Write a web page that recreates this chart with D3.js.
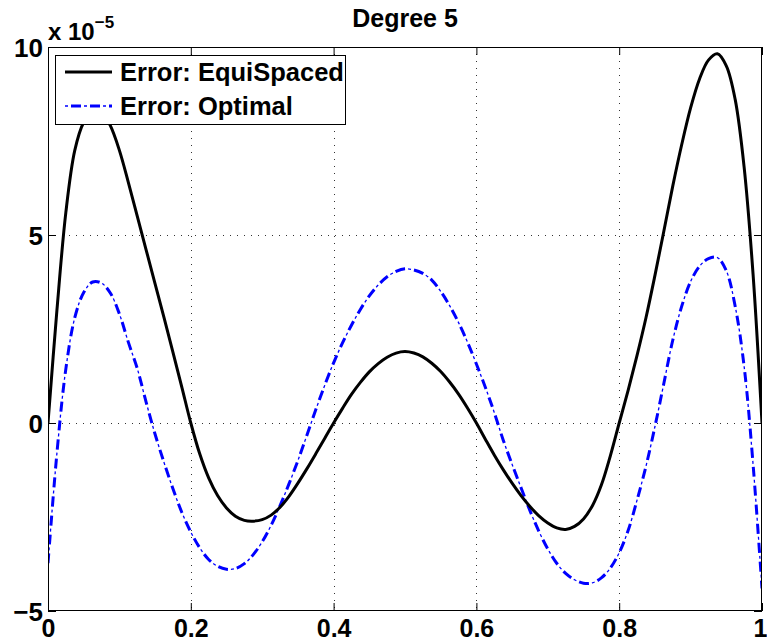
<!DOCTYPE html>
<html><head><meta charset="utf-8">
<script src="https://cdn.jsdelivr.net/npm/d3@7"></script>
<style>body{margin:0;background:#fff}svg{display:block}</style>
</head><body><svg id="c" width="767" height="643"></svg>
<script>
const xValues = [0,0.0125,0.025,0.0375,0.05,0.0625,0.075,0.0875,0.1,0.1125,0.125,0.1375,0.15,0.1625,0.175,0.1875,
0.2,0.2125,0.225,0.2375,0.25,0.2625,0.275,0.2875,0.3,0.3125,0.325,0.3375,0.35,0.3625,0.375,0.3875,
0.4,0.4125,0.425,0.4375,0.45,0.4625,0.475,0.4875,0.5,0.5125,0.525,0.5375,0.55,0.5625,0.575,0.5875,
0.6,0.6125,0.625,0.6375,0.65,0.6625,0.675,0.6875,0.7,0.7125,0.725,0.7375,0.75,0.7625,0.775,0.7875,
0.8,0.8125,0.825,0.8375,0.85,0.8625,0.875,0.8875,0.9,0.9125,0.925,0.9375,0.95,0.9625,0.975,0.9875,1];
// values in units of 1e-5
const equiSpaced = [0,3.0,5.6,7.25,8.0,8.3,8.28,7.9,7.25,6.4,5.5,4.6,3.7,2.8,1.88,0.95,
0,-0.82,-1.46,-1.93,-2.26,-2.48,-2.59,-2.61,-2.57,-2.45,-2.24,-1.95,-1.6,-1.22,-0.82,-0.41,
0,0.39,0.76,1.08,1.36,1.58,1.75,1.86,1.9,1.86,1.76,1.59,1.37,1.09,0.77,0.4,
0,-0.43,-0.85,-1.24,-1.6,-1.93,-2.22,-2.47,-2.66,-2.79,-2.83,-2.75,-2.55,-2.2,-1.65,-0.88,
0,0.87,1.8,2.8,3.92,5.1,6.3,7.4,8.38,9.15,9.65,9.82,9.5,8.6,6.8,3.95,0];
const optimal = [-3.73,-0.8,1.44,2.8,3.47,3.75,3.72,3.45,2.9,2.15,1.45,0.55,-0.3,-1.05,-1.75,-2.38,
-2.9,-3.32,-3.63,-3.81,-3.89,-3.87,-3.74,-3.5,-3.16,-2.72,-2.2,-1.62,-1.0,-0.33,0.35,1.0,
1.6,2.13,2.6,3.02,3.38,3.67,3.89,4.03,4.1,4.07,3.98,3.8,3.5,3.12,2.67,2.15,
1.57,0.95,0.28,-0.45,-1.1,-1.72,-2.33,-2.88,-3.35,-3.73,-4.0,-4.17,-4.26,-4.25,-4.12,-3.86,
-3.45,-2.86,-2.05,-1.15,-0.1,1.05,2.2,3.1,3.76,4.17,4.37,4.4,4.05,3.1,1.5,-1.1,-4.4];
const seriesNames = ["Error: EquiSpaced", "Error: Optimal"];
const seriesColors = ["#000000", "#0000ff"];
const xTicks = [0, 0.2, 0.4, 0.6, 0.8, 1];
const xTickLabels = ["0", "0.2", "0.4", "0.6", "0.8", "1"];
const yTicks = [-5, 0, 5, 10];
const yTickLabels = ["\u22125", "0", "5", "10"];
const titleText = "Degree 5";
const multiplierBase = "x 10";
const multiplierExp = "\u22125";

const W = 767, H = 643;
const L = 48, R = 762, T = 47, B = 611;
const svg = d3.select("#c");
const x = d3.scaleLinear().domain([0, 1]).range([L, R]);
const y = d3.scaleLinear().domain([-5, 10]).range([B, T]);
const FONT = "'Liberation Sans', Arial, Helvetica, sans-serif";

svg.append("rect").attr("width", W).attr("height", H).attr("fill", "#fff");

// grid
const grid = svg.append("g").attr("stroke", "#333").attr("stroke-width", 1).attr("stroke-dasharray", "1,6");
grid.selectAll(".gx").data(xTicks.filter(d => d > 0 && d < 1)).join("line")
  .attr("x1", d => Math.round(x(d)) + 0.5).attr("x2", d => Math.round(x(d)) + 0.5)
  .attr("y1", T).attr("y2", B);
grid.selectAll(".gy").data(yTicks.filter(d => d > -5 && d < 10)).join("line")
  .attr("y1", d => Math.round(y(d)) + 0.5).attr("y2", d => Math.round(y(d)) + 0.5)
  .attr("x1", L).attr("x2", R);

// curves
svg.append("defs").append("clipPath").attr("id", "clip")
  .append("rect").attr("x", L).attr("y", T).attr("width", R - L).attr("height", B - T);
const line = vals => d3.line().curve(d3.curveCatmullRom.alpha(0.5))
  .x((d, i) => x(xValues[i])).y(d => y(d))(vals);
const plot = svg.append("g").attr("clip-path", "url(#clip)");
// dash-dot: thick dashes plus thin dots in the gaps
plot.append("path").attr("d", line(optimal)).attr("fill", "none")
  .attr("stroke", seriesColors[1]).attr("stroke-width", 3).attr("stroke-dasharray", "10,9");
plot.append("path").attr("d", line(optimal)).attr("fill", "none")
  .attr("stroke", seriesColors[1]).attr("stroke-width", 1.3).attr("stroke-dasharray", "3,16").attr("stroke-dashoffset", 6);
plot.append("path").attr("d", line(equiSpaced)).attr("fill", "none")
  .attr("stroke", seriesColors[0]).attr("stroke-width", 3).attr("stroke-linejoin", "round");

// axes
const fmtX = (d) => xTickLabels[xTicks.indexOf(d)];
const fmtY = (d) => yTickLabels[yTicks.indexOf(d)];
const gb = svg.append("g").attr("transform", `translate(0,${B})`)
  .call(d3.axisBottom(x).tickValues(xTicks).tickSize(-8).tickSizeOuter(0).tickFormat(fmtX));
const gt = svg.append("g").attr("transform", `translate(0,${T})`)
  .call(d3.axisTop(x).tickValues(xTicks).tickSize(-8).tickSizeOuter(0).tickFormat(""));
const gl = svg.append("g").attr("transform", `translate(${L},0)`)
  .call(d3.axisLeft(y).tickValues(yTicks).tickSize(-8).tickSizeOuter(0).tickFormat(fmtY));
const gr = svg.append("g").attr("transform", `translate(${R},0)`)
  .call(d3.axisRight(y).tickValues(yTicks).tickSize(-8).tickSizeOuter(0).tickFormat(""));
[gb, gt, gl, gr].forEach(g => {
  g.select(".domain").remove();
  g.selectAll(".tick line").attr("stroke", "#000").attr("stroke-width", 1);
  g.selectAll("text").attr("font-family", FONT).attr("font-weight", "bold")
    .attr("font-size", 25).attr("fill", "#000");
});
gb.selectAll(".tick text").attr("y", 26).attr("dy", null);
gb.selectAll(".tick text").filter(d => d === 1).attr("text-anchor", "end").attr("x", W - R);
gl.selectAll(".tick text").attr("x", -5).attr("dy", "0.37em").attr("font-size", 26);

svg.append("rect").attr("x", L + 0.5).attr("y", T + 0.5).attr("width", R - L - 1).attr("height", B - T - 1)
  .attr("fill", "none").attr("stroke", "#000").attr("stroke-width", 1);

// multiplier
const mt = svg.append("text").attr("x", L).attr("y", 40)
  .attr("font-family", FONT).attr("font-weight", "bold").attr("font-size", 24).attr("fill", "#000");
mt.append("tspan").text(multiplierBase);
mt.append("tspan").attr("dy", -12).attr("font-size", 17).text(multiplierExp);

// title
svg.append("text").attr("x", (L + R) / 2).attr("y", 27).attr("text-anchor", "middle")
  .attr("font-family", FONT).attr("font-weight", "bold").attr("font-size", 25).attr("fill", "#000")
  .text(titleText);

// legend
const lg = svg.append("g");
lg.append("rect").attr("x", 55.5).attr("y", 55.5).attr("width", 290).attr("height", 69)
  .attr("fill", "#fff").attr("stroke", "#000").attr("stroke-width", 1);
const rows = [72, 106];
seriesNames.forEach((name, i) => {
  if (i === 0) {
    lg.append("line").attr("x1", 65).attr("x2", 112).attr("y1", rows[i]).attr("y2", rows[i])
      .attr("stroke", seriesColors[i]).attr("stroke-width", 3);
  } else {
    lg.append("line").attr("x1", 65).attr("x2", 112).attr("y1", rows[i]).attr("y2", rows[i])
      .attr("stroke", seriesColors[i]).attr("stroke-width", 3)
      .attr("stroke-dasharray", "10,9").attr("stroke-dashoffset", 13);
    lg.append("line").attr("x1", 65).attr("x2", 112).attr("y1", rows[i]).attr("y2", rows[i])
      .attr("stroke", seriesColors[i]).attr("stroke-width", 1.3)
      .attr("stroke-dasharray", "3,16");
  }
  lg.append("text").attr("x", 120).attr("y", rows[i] + 9)
    .attr("font-family", FONT).attr("font-weight", "bold").attr("font-size", 25.5).attr("fill", "#000")
    .text(name);
});
</script></body></html>
